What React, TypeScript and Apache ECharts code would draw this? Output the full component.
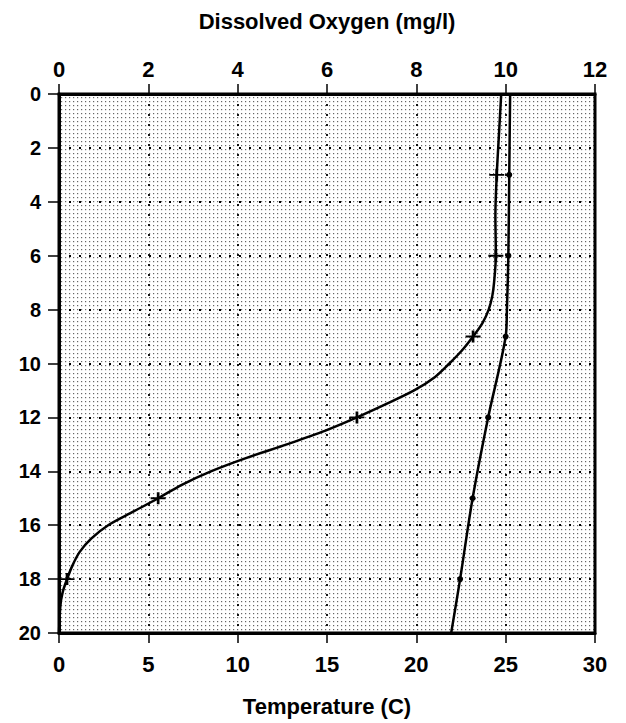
import React, { useEffect, useRef } from 'react';
import * as echarts from 'echarts';

// Temperature profile (bottom axis, °C) vs depth
const tempDepths = [0, 3, 6, 8, 9, 12, 15, 18, 20];
const tempValues = [25.25, 25.2, 25.15, 25.07, 25.0, 24.02, 23.15, 22.45, 21.95];

// Dissolved oxygen profile (top axis, mg/l) vs depth
const oxyDepths = [0, 1.5, 3, 4.5, 6, 7, 7.5, 8, 8.5, 9, 9.5, 10, 10.5, 11, 11.5, 12, 12.5, 13, 13.5, 14, 14.5, 15, 15.5, 16, 16.5, 17, 17.5, 18, 18.5, 19, 20];
const oxyValues = [9.9, 9.85, 9.8, 9.77, 9.78, 9.74, 9.7, 9.62, 9.48, 9.27, 9.03, 8.74, 8.42, 7.95, 7.33, 6.67, 5.95, 5.1, 4.2, 3.4, 2.75, 2.22, 1.66, 1.1, 0.72, 0.46, 0.3, 0.18, 0.08, 0.03, 0];

// Depths at which measurement markers are drawn
const markerDepths = [3, 6, 9, 12, 15, 18];

const tempTicks = { min: 0, max: 30, interval: 5 };
const oxyTicks = { min: 0, max: 12, interval: 2 };
const depthTicks = { min: 0, max: 20, interval: 2 };

const FONT = '"Liberation Sans", Arial, Helvetica, sans-serif';
const PLUS = 'path://M0,4.2H10V5.8H0Z M4.1,0H5.9V10H4.1Z';

const dotTile =
  'data:image/svg+xml;utf8,' +
  encodeURIComponent(
    "<svg xmlns='http://www.w3.org/2000/svg' width='4' height='4'><rect x='1' y='1' width='1.2' height='1.2' fill='#000' fill-opacity='0.6'/></svg>"
  );

export default function App() {
  const ref = useRef<HTMLDivElement>(null);

  useEffect(() => {
    if (!ref.current) return;
    const chart = echarts.init(ref.current, null, { renderer: 'svg' });

    const gridLine = { show: true, lineStyle: { color: '#000', type: [2, 8], width: 1.8 } };
    const axisLine = { show: true, onZero: false, lineStyle: { color: '#000', width: 3 } };
    const tick = { show: true, length: 10, lineStyle: { color: '#000', width: 1.5 } };

    const tempData = tempDepths.map((d, i) => ({
      value: [tempValues[i], d],
      symbol: markerDepths.includes(d) ? 'circle' : 'none',
    }));
    const oxyData = oxyDepths.map((d, i) => ({
      value: [oxyValues[i], d],
      symbol: markerDepths.includes(d) ? PLUS : 'none',
    }));

    chart.setOption({
      animation: false,
      backgroundColor: '#fff',
      grid: {
        left: 59,
        right: 31,
        top: 94,
        bottom: 90,
        show: true,
        backgroundColor: { image: dotTile, repeat: 'repeat', imageWidth: 4, imageHeight: 4 },
        borderColor: '#000',
        borderWidth: 3,
      },
      xAxis: [
        {
          type: 'value',
          position: 'bottom',
          ...tempTicks,
          name: 'Temperature (C)',
          nameLocation: 'middle',
          nameGap: 62,
          nameTextStyle: { fontFamily: FONT, fontWeight: 'bold', fontSize: 22, color: '#000' },
          axisLine,
          axisTick: tick,
          axisLabel: { margin: 20, fontFamily: FONT, fontWeight: 'bold', fontSize: 22, color: '#000' },
          splitLine: gridLine,
        },
        {
          type: 'value',
          position: 'top',
          ...oxyTicks,
          name: 'Dissolved Oxygen (mg/l)',
          nameLocation: 'middle',
          nameGap: 62,
          nameTextStyle: { fontFamily: FONT, fontWeight: 'bold', fontSize: 22, color: '#000' },
          axisLine,
          axisTick: tick,
          axisLabel: { margin: 14, fontFamily: FONT, fontWeight: 'bold', fontSize: 22, color: '#000' },
          splitLine: { show: false },
        },
      ],
      yAxis: {
        type: 'value',
        inverse: true,
        ...depthTicks,
        axisLine,
        axisTick: { show: true, length: 11, lineStyle: { color: '#000', width: 1.5 } },
        axisLabel: { margin: 18, fontFamily: FONT, fontWeight: 'bold', fontSize: 20, color: '#000' },
        splitLine: gridLine,
      },
      series: [
        {
          name: 'Temperature',
          type: 'line',
          xAxisIndex: 0,
          yAxisIndex: 0,
          data: tempData,
          smooth: 0.3,
          symbolSize: 6,
          itemStyle: { color: '#000' },
          lineStyle: { color: '#000', width: 2.5 },
        },
        {
          name: 'Dissolved Oxygen',
          type: 'line',
          xAxisIndex: 1,
          yAxisIndex: 0,
          data: oxyData,
          smooth: 0.3,
          symbolSize: [15, 12],
          itemStyle: { color: '#000' },
          lineStyle: { color: '#000', width: 2.5 },
        },
      ],
    });

    return () => chart.dispose();
  }, []);

  return (
    <div
      ref={ref}
      style={{ position: 'absolute', left: 0, top: 0, width: 626, height: 723 }}
    />
  );
}
